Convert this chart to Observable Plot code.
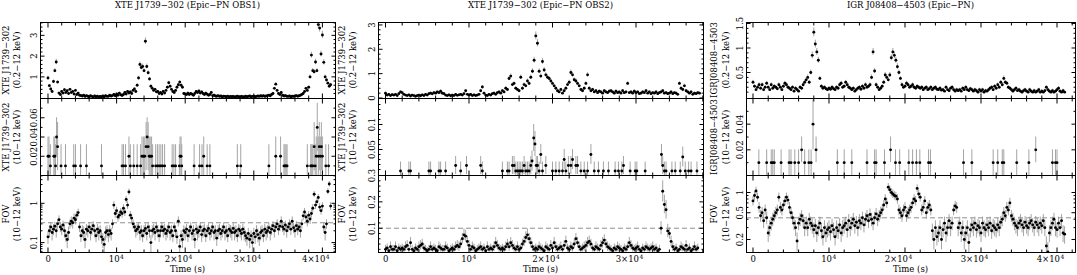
<!DOCTYPE html>
<html>
<head>
<meta charset="utf-8">
<script src="https://cdn.jsdelivr.net/npm/d3@7"></script>
<script src="https://cdn.jsdelivr.net/npm/@observablehq/plot@0.6"></script>
<style>
  html,body{margin:0;padding:0;background:#fff;}
  #chart{position:relative;width:1077px;height:275px;overflow:hidden;font-family:"DejaVu Serif",serif;color:#000;}
  #chart svg{position:absolute;overflow:visible;}
  .t{position:absolute;white-space:nowrap;font-size:8.5px;line-height:1;transform:translate(-50%,-50%);}
  .r{transform:translate(-50%,-50%) rotate(-90deg);}
</style>
</head>
<body>
<div id="chart"></div>
<script>
// ---------------- DATA ----------------
const BIN_S = 200; // light-curve bin (s); dense series start at t = 0

const columnTitles = ["XTE J1739\u2212302 (Epic\u2212PN OBS1)", "XTE J1739\u2212302 (Epic\u2212PN OBS2)", "IGR J08408\u22124503 (Epic\u2212PN)"];
const sourceLabels = ["XTE J1739\u2212302", "XTE J1739\u2212302", "IGRJ08408\u22124503"];
const rowFirstLines = ["source", "source", "FOV"];
const bandLabels = ["(0.2\u221212 keV)", "(10\u221212 keV)", "(10\u221212 keV)"];
const xTitle = "Time (s)";
const xTickValues = [0, 10000, 20000, 30000, 40000];
const xTickBase = ["0", "10", "2\u00d710", "3\u00d710", "4\u00d710"];   // tick label mantissa
const xTickExp  = ["", "4", "4", "4", "4"];                               // tick label exponent (superscript)

// XTE J1739-302 OBS1, 0.2-12 keV
const obs1Soft = [
 .95,.58,.42,.3,.78, 1.3,1.72,.75,.22,.15, .3,.22,.38,.25,.33, .2,.4,.25,.3,.18, .35,.15,.22,.12,.1,
 .08,.12,.06,.1,.07, .05,.09,.06,.04,.08, .05,.07,.04,.06,.05, .08,.05,.1,.06,.07, .12,.08,.1,.15,.09,
 .18,.12,.22,.14,.1, .15,.25,.18,.3,.22, .28,.2,.35,.42,.3, .6,.95,1.6,1.45,1.5, 1.3,2.72,1.5,1.2,.9,
 .55,.45,.35,.4,.28, .3,.2,.25,.18,.3, .22,.35,.5,.72,.55, .4,.3,.25,.35,.5, .62,.75,.6,.5,.2,
 .18,.15,.22,.15,.2, .17,.12,.2,.3,.25, .32,.22,.28,.2,.15, .22,.17,.12,.15,.25, .1,.12,.08,.07,.1,
 .06,.08,.05,.07,.06, .05,.07,.04,.06,.05, .06,.04,.05,.07,.05, .04,.06,.05,.04,.07, .05,.06,.08,.05,.06,
 .07,.05,.06,.08,.06, .09,.07,.1,.06,.08, .1,.12,.09,.15,.2, .45,.65,.35,.2,.15, .25,.12,.08,.1,.07,
 .06,.08,.05,.07,.06, .08,.1,.07,.09,.12, .15,.2,.3,.45,.35, .5,1.0,2.05,1.3,1.25, 1.72,1.3,3.52,3.35,2.1,
 3.02,1.7,1.0,.85,.7, .55,.62];
const obs1SoftErr = [
 .08,.06,.05,.04,.07, .1,.13,.07,.04,.03, .04,.04,.05,.04,.04, .04,.05,.04,.04,.03, .05,.03,.04,.03,.03,
 .03,.03,.02,.03,.02, .02,.03,.02,.02,.03, .02,.02,.02,.02,.02, .03,.02,.03,.02,.02, .03,.03,.03,.03,.03,
 .03,.03,.04,.03,.03, .03,.04,.03,.04,.04, .04,.04,.05,.05,.04, .06,.08,.12,.11,.12, .1,.16,.12,.1,.08,
 .06,.05,.05,.05,.04, .04,.04,.04,.03,.04, .04,.05,.06,.07,.06, .05,.04,.04,.05,.06, .06,.07,.06,.06,.04,
 .03,.03,.04,.03,.04, .03,.03,.04,.04,.04, .04,.04,.04,.04,.03, .04,.03,.03,.03,.04, .03,.03,.03,.02,.03,
 .02,.03,.02,.02,.02, .02,.02,.02,.02,.02, .02,.02,.02,.02,.02, .02,.02,.02,.02,.02, .02,.02,.03,.02,.02,
 .02,.02,.02,.03,.02, .03,.02,.03,.02,.03, .03,.03,.03,.03,.04, .05,.07,.05,.04,.03, .04,.03,.03,.03,.02,
 .02,.03,.02,.02,.02, .03,.03,.02,.03,.03, .03,.04,.04,.05,.05, .06,.09,.14,.1,.1, .13,.1,.2,.19,.14,
 .18,.13,.09,.08,.07, .06,.07];
// XTE J1739-302 OBS1, 10-12 keV: [time (ks), rate, error]
const obs1Hard = [
 [0.0,.02,.02],[0.15,.02,.02],[0.35,.01,.022],[0.85,.02,.02],[1.0,.02,.02],[1.1,.01,.022],[1.25,.04,.02],[1.4,.03,.025],
 [1.9,.01,.022],[2.55,.01,.022],[3.75,.01,.022],[4.0,.01,.022],[4.75,.01,.022],[5.6,.01,.022],[7.8,.01,.022],
 [10.8,.01,.022],[11.0,.01,.022],[11.3,.01,.022],[11.8,.02,.02],[12.0,.01,.022],[12.5,.01,.022],[13.0,.01,.022],
 [13.5,.01,.022],[13.7,.02,.02],[13.9,.02,.02],[14.1,.02,.02],[14.3,.03,.025],[14.45,.04,.02],[14.6,.03,.025],
 [14.75,.02,.02],[14.9,.02,.02],[15.1,.02,.02],[15.25,.01,.022],[15.7,.01,.022],[15.95,.01,.022],[16.2,.01,.022],
 [16.45,.01,.022],[16.7,.01,.022],[17.0,.01,.022],[18.1,.01,.022],[18.35,.01,.022],[18.6,.01,.022],[19.15,.01,.022],
 [19.25,.02,.02],[19.4,.02,.02],[19.5,.01,.022],[21.3,.01,.022],[22.1,.01,.022],[22.45,.01,.022],[22.7,.02,.02],
 [23.2,.01,.022],[23.6,.01,.022],[27.6,.01,.022],[28.1,.01,.022],[32.2,.01,.022],[33.2,.02,.02],[33.9,.02,.02],
 [34.4,.01,.022],[34.55,.01,.022],[34.7,.01,.022],[34.85,.01,.022],[37.8,.01,.022],[38.3,.01,.022],[38.45,.01,.022],
 [38.6,.01,.022],[38.8,.03,.025],[38.95,.01,.022],[39.1,.02,.02],[39.25,.05,.025],[39.4,.02,.02],[39.55,.03,.025],
 [39.7,.02,.02],[39.85,.03,.025],[40.0,.02,.02],[40.5,.01,.022],[40.9,.01,.022]];
// XTE J1739-302 OBS1, FOV 10-12 keV
const obs1Fov = [
 .14,.2,.25,.18,.22, .26,.2,.3,.38,.25, .22,.28,.2,.15,.12, .18,.3,.35,.32,.42, .38,.5,.58,.25,.15,
 .2,.18,.12,.22,.2, .25,.18,.22,.27,.2, .15,.22,.18,.2,.14, .12,.09,.18,.2,.16, .2,.17,.3,.9,.55,
 .65,.45,.5,.6,.55, .75,.6,1.25,.9,1.95, .5,.42,.3,.25,.2, .22,.25,.18,.2,.15, .2,.23,.17,.25,.2,
 .1,.2,.22,.18,.25, .2,.15,.2,.25,.2, .22,.17,.2,.25,.18, .2,.15,.25,.2,.14, .35,.08,.15,.12,.2,
 .18,.22,.15,.2,.25, .17,.2,.12,.22,.18, .2,.25,.16,.2,.22, .15,.2,.23,.17,.2, .25,.18,.2,.13,.2,
 .22,.17,.2,.25,.18, .2,.15,.22,.2,.18, .23,.18,.2,.15,.22, .2,.17,.22,.18,.15, .13,.17,.12,.15,.1,
 .17,.14,.2,.16,.13, .18,.2,.15,.22,.18, .2,.24,.18,.22,.27, .2,.25,.3,.22,.26, .35,.25,.22,.28,.2,
 .25,.3,.22,.35,.24, .2,.27,.22,.25,.2, .3,.48,.6,.45,.35, .5,.4,.55,.75,1.7, .9,1.1,1.4,.8,.65,
 .85,.25,.18,.3,2.0, 3.1,.85];
const obs1FovErr = [
 .05,.07,.07,.07,.07, .07,.07,.08,.1,.07, .07,.07,.07,.05,.05, .07,.08,.1,.1,.12, .1,.12,.13,.07,.05,
 .07,.07,.05,.07,.07, .07,.07,.07,.07,.07, .05,.07,.07,.07,.05, .05,.05,.07,.07,.06, .07,.06,.08,.2,.13,
 .15,.12,.12,.14,.13, .17,.14,.25,.2,.35, .12,.11,.08,.07,.07, .07,.07,.07,.07,.05, .07,.07,.06,.07,.07,
 .05,.07,.07,.07,.07, .07,.05,.07,.07,.07, .07,.06,.07,.07,.07, .07,.05,.07,.07,.05, .1,.04,.05,.05,.07,
 .07,.07,.05,.07,.07, .06,.07,.05,.07,.07, .07,.07,.06,.07,.07, .05,.07,.07,.06,.07, .07,.07,.07,.05,.07,
 .07,.06,.07,.07,.07, .07,.05,.07,.07,.07, .07,.07,.07,.05,.07, .07,.06,.07,.07,.05, .05,.06,.05,.05,.05,
 .06,.05,.07,.06,.05, .07,.07,.05,.07,.07, .07,.07,.07,.07,.07, .07,.07,.08,.07,.07, .1,.07,.07,.07,.07,
 .07,.08,.07,.1,.07, .07,.07,.07,.07,.07, .08,.12,.14,.12,.1, .12,.11,.13,.17,.3, .2,.22,.27,.18,.15,
 .19,.07,.07,.08,.35, .5,.19];

// XTE J1739-302 OBS2, 0.2-12 keV
const obs2Soft = [
 .2,.12,.15,.1,.14, .12,.15,.1,.18,.25, .22,.15,.12,.1,.13, .08,.12,.1,.07,.1, .12,.09,.13,.1,.15,
 .12,.18,.2,.17,.22, .2,.25,.22,.28,.2, .18,.12,.1,.13,.09, .12,.1,.15,.11,.13, .15,.12,.18,.3,.15,
 .12,.15,.1,.13,.1, .12,.15,.3,.45,.2, .12,.1,.15,.12,.18, .2,.15,.22,.25,.2, .3,.25,.4,.35,.8,
 .9,.55,.6,.4,.35, .3,.85,.4,.55,.5, .7,.6,.85,1.1,1.55, 2.55,2.25,1.1,.9,1.5, 1.15,.95,.85,.8,.7,
 .6,.5,.4,.3,.25, .35,.2,.3,.4,.55, .65,1.05,.95,.75,.7, .6,.5,.35,.3,.4, .6,.95,.4,.3,.35,
 .25,.3,.22,.28,.25, .2,.3,.25,.22,.28, .3,.25,.2,.28,.22, .25,.2,.3,.22,.25, .6,.22,.25,.2,.28,
 .22,.25,.18,.2,.25, .22,.3,.2,.25,.18, .22,.2,.25,.18,.22, .25,.3,.2,.22,.18, .2,.25,.18,.22,.2,
 .15,.6,.4,.35,.5, .3,.25,.2,.25,.15, .2,.18,.22,.2];
const obs2SoftErr = [
 .04,.03,.03,.03,.03, .03,.03,.03,.04,.04, .04,.03,.03,.03,.03, .03,.03,.03,.02,.03, .03,.03,.03,.03,.03,
 .03,.04,.04,.04,.04, .04,.04,.04,.05,.04, .04,.03,.03,.03,.03, .03,.03,.03,.03,.03, .03,.03,.04,.05,.03,
 .03,.03,.03,.03,.03, .03,.03,.05,.06,.04, .03,.03,.03,.03,.04, .04,.03,.04,.04,.04, .05,.04,.06,.05,.08,
 .09,.07,.07,.06,.05, .05,.09,.06,.07,.07, .08,.07,.09,.1,.12, .16,.15,.1,.09,.12, .1,.09,.09,.08,.08,
 .07,.07,.06,.05,.04, .05,.04,.05,.06,.07, .08,.1,.09,.08,.08, .07,.07,.05,.05,.06, .07,.09,.06,.05,.05,
 .04,.05,.04,.05,.04, .04,.05,.04,.04,.05, .05,.04,.04,.05,.04, .04,.04,.05,.04,.04, .07,.04,.04,.04,.05,
 .04,.04,.04,.04,.04, .04,.05,.04,.04,.04, .04,.04,.04,.04,.04, .04,.05,.04,.04,.04, .04,.04,.04,.04,.04,
 .03,.07,.06,.05,.07, .05,.04,.04,.04,.03, .04,.04,.04,.04];
// XTE J1739-302 OBS2, 10-12 keV: [time (ks), rate, error]
const obs2Hard = [
 [1.8,.007,.018],[2.8,.007,.018],[3.0,.007,.018],[5.2,.007,.018],[5.4,.007,.018],[6.4,.007,.018],[6.6,.007,.018],
 [7.2,.007,.018],[8.4,.018,.018],[9.0,.007,.018],[9.7,.018,.018],[11.4,.018,.018],[11.6,.007,.018],[14.0,.007,.018],
 [14.6,.007,.018],[14.8,.007,.018],[15.2,.018,.018],[15.4,.018,.018],[15.6,.007,.018],[15.8,.007,.018],[16.0,.007,.018],
 [16.2,.007,.018],[16.4,.007,.018],[16.6,.018,.018],[16.8,.007,.018],[17.0,.007,.018],[17.2,.007,.018],[17.4,.018,.018],
 [17.55,.027,.02],[17.75,.073,.027],[17.9,.061,.025],[18.05,.018,.018],[18.2,.018,.018],[18.4,.007,.018],[18.6,.04,.02],
 [18.8,.007,.018],[19.2,.018,.018],[20.0,.007,.018],[20.4,.007,.018],[20.8,.007,.018],[21.2,.007,.018],[21.4,.03,.02],
 [21.6,.007,.018],[21.9,.018,.018],[22.2,.018,.018],[22.4,.03,.02],[22.8,.018,.018],[23.0,.018,.018],[23.4,.007,.018],
 [23.8,.007,.018],[24.2,.007,.018],[24.6,.04,.02],[25.0,.007,.018],[25.5,.007,.018],[26.1,.007,.018],[26.7,.007,.018],
 [27.5,.007,.018],[27.9,.007,.018],[28.3,.007,.018],[28.5,.018,.018],[29.3,.007,.018],[29.9,.007,.018],[30.1,.007,.018],
 [31.1,.007,.018],[33.05,.04,.02],[33.2,.018,.018],[33.4,.007,.018],[33.6,.007,.018],[34.3,.007,.018],[34.7,.007,.018],
 [35.3,.007,.018],[35.6,.035,.02],[35.9,.007,.018],[36.3,.007,.018],[36.6,.007,.018],[37.3,.007,.018]];
// XTE J1739-302 OBS2, FOV 10-12 keV
const obs2Fov = [
 .02,.025,.015,.03,.02, .02,.03,.015,.025,.02, .025,.02,.03,.035,.02, .045,.02,.015,.025,.02, .03,.035,.04,.025,.02,
 .015,.02,.03,.02,.025, .02,.015,.03,.025,.02, .02,.03,.025,.015,.02, .025,.02,.03,.035,.03, .04,.06,.075,.07,.05,
 .035,.02,.03,.025,.015, .02,.025,.03,.02,.025, .015,.03,.02,.025,.02, .03,.045,.035,.025,.02, .025,.02,.03,.04,.03,
 .045,.035,.025,.02,.03, .02,.025,.04,.05,.065, .075,.06,.045,.03,.02, .025,.02,.03,.025,.02, .015,.03,.025,.02,.035,
 .025,.045,.03,.02,.025, .03,.02,.035,.05,.025, .02,.03,.025,.04,.06, .045,.03,.02,.025,.03, .035,.045,.05,.04,.025,
 .02,.03,.025,.02,.035, .045,.055,.04,.03,.025, .02,.015,.025,.02,.03, .025,.02,.015,.025,.02, .03,.045,.035,.025,.02,
 .025,.03,.02,.015,.025, .02,.03,.025,.02,.025, .03,.02,.025,.015,.02, .1,.24,.19,.17,.09, .08,.05,.03,.02,.025,
 .015,.02,.03,.025,.02, .035,.02,.025,.015,.02, .03,.02,.025];
const obs2FovErr = [
 .015,.015,.012,.018,.015, .015,.018,.012,.015,.015, .015,.015,.018,.018,.015, .02,.015,.012,.015,.015, .018,.018,.018,.015,.015,
 .012,.015,.018,.015,.015, .015,.012,.018,.015,.015, .015,.018,.015,.012,.015, .015,.015,.018,.018,.018, .018,.02,.022,.022,.02,
 .018,.015,.018,.015,.012, .015,.015,.018,.015,.015, .012,.018,.015,.015,.015, .018,.02,.018,.015,.015, .015,.015,.018,.018,.018,
 .02,.018,.015,.015,.018, .015,.015,.018,.02,.022, .022,.02,.02,.018,.015, .015,.015,.018,.015,.015, .012,.018,.015,.015,.018,
 .015,.02,.018,.015,.015, .018,.015,.018,.02,.015, .015,.018,.015,.018,.02, .02,.018,.015,.015,.018, .018,.02,.02,.018,.015,
 .015,.018,.015,.015,.018, .02,.02,.018,.018,.015, .015,.012,.015,.015,.018, .015,.015,.012,.015,.015, .018,.02,.018,.015,.015,
 .015,.018,.015,.012,.015, .015,.018,.015,.015,.015, .018,.015,.015,.012,.015, .025,.04,.035,.035,.025, .022,.02,.018,.015,.015,
 .012,.015,.018,.015,.015, .018,.015,.015,.012,.015, .018,.015,.015];

// IGR J08408-4503, 0.2-12 keV
const igrSoft = [
 .3,.22,.15,.2,.25, .18,.25,.15,.2,.28, .2,.15,.25,.18,.22, .2,.17,.25,.2,.15, .22,.28,.25,.2,.18,
 .15,.2,.12,.18,.15, .12,.2,.18,.25,.3, .35,.4,.3,.5,.85, 1.32,1.08,.92,.75,.38, .22,.18,.2,.17,.15,
 .18,.16,.2,.17,.15, .2,.18,.25,.28,.2, .22,.3,.25,.2,.18, .15,.18,.12,.15,.18, .2,.16,.22,.18,.25,
 .2,.22,.25,.4,.92, .53,.25,.2,.15,.18, .22,.3,.45,.4,.35, .45,.8,.92,.85,.75, .62,.5,.38,.25,.2,
 .22,.28,.25,.2,.22, .25,.2,.18,.22,.2, .18,.2,.15,.18,.2, .15,.17,.2,.15,.18, .2,.16,.15,.18,.14,
 .15,.12,.2,.15,.13, .18,.2,.15,.12,.15, .13,.15,.12,.18,.15, .2,.15,.13,.17,.15, .12,.15,.13,.1,.15,
 .12,.15,.1,.13,.12, .15,.18,.2,.15,.22, .18,.25,.2,.3,.25, .38,.3,.28,.2,.18, .15,.12,.15,.18,.13,
 .15,.12,.1,.13,.15, .12,.1,.15,.12,.1, .13,.1,.12,.15,.1, .12,.1,.13,.2,.15, .12,.1,.13,.1,.12,
 .15,.18,.12,.1,.13, .1];
const igrSoftErr = [
 .04,.03,.03,.03,.04, .03,.04,.03,.03,.04, .03,.03,.04,.03,.03, .03,.03,.04,.03,.03, .03,.04,.04,.03,.03,
 .03,.03,.03,.03,.03, .03,.03,.03,.04,.04, .04,.05,.04,.05,.07, .09,.08,.07,.06,.04, .03,.03,.03,.03,.03,
 .03,.03,.03,.03,.03, .03,.03,.04,.04,.03, .03,.04,.04,.03,.03, .03,.03,.03,.03,.03, .03,.03,.03,.03,.04,
 .03,.03,.04,.05,.07, .05,.04,.03,.03,.03, .03,.04,.05,.05,.04, .05,.06,.07,.07,.06, .06,.05,.04,.04,.03,
 .03,.04,.04,.03,.03, .04,.03,.03,.03,.03, .03,.03,.03,.03,.03, .03,.03,.03,.03,.03, .03,.03,.03,.03,.03,
 .03,.03,.03,.03,.03, .03,.03,.03,.03,.03, .03,.03,.03,.03,.03, .03,.03,.03,.03,.03, .03,.03,.03,.02,.03,
 .03,.03,.02,.03,.03, .03,.03,.03,.03,.03, .03,.04,.03,.04,.04, .05,.04,.04,.03,.03, .03,.03,.03,.03,.03,
 .03,.03,.02,.03,.03, .03,.02,.03,.03,.02, .03,.02,.03,.03,.02, .03,.02,.03,.03,.03, .03,.02,.03,.02,.03,
 .03,.03,.03,.02,.03, .02];
// IGR J08408-4503, 10-12 keV: [time (ks), rate, error]
const igrHard = [
 [0.77,.01,.01],[1.8,.01,.01],[2.4,.01,.01],[2.6,.01,.01],[2.8,.01,.01],[3.7,.01,.01],[4.75,.01,.01],[5.0,.01,.01],
 [5.5,.01,.01],[6.0,.01,.01],[6.4,.02,.01],[6.8,.01,.01],[7.35,.01,.01],[7.65,.01,.01],[7.9,.04,.02],[8.3,.02,.01],
 [11.1,.01,.01],[12.0,.01,.01],[13.0,.01,.01],[15.0,.01,.01],[16.0,.01,.01],[16.2,.01,.01],[17.3,.01,.01],
 [18.1,.02,.01],[18.75,.01,.01],[19.3,.01,.01],[20.5,.01,.01],[21.0,.01,.01],[21.5,.01,.01],[21.95,.01,.01],
 [23.1,.01,.01],[23.35,.01,.01],[27.7,.01,.01],[28.8,.01,.01],[31.6,.01,.01],[32.2,.01,.01],[32.8,.01,.01],
 [33.0,.01,.01],[34.7,.01,.01],[36.3,.01,.01],[37.2,.02,.01],[39.4,.01,.01],[39.8,.01,.01],[40.0,.01,.01]];
// IGR J08408-4503, FOV 10-12 keV
const igrFov = [
 .75,.9,1.05,.85,.6, .45,.5,.38,.55,.42, .25,.3,.35,.4,.45, .5,.55,.85,.6,.55, .65,.75,.85,.77,.6,
 .5,.42,.35,.3,.19, .35,.4,.45,.38,.3, .35,.3,.4,.35,.32, .28,.32,.25,.3,.35, .27,.22,.3,.25,.28,
 .3,.26,.32,.28,.22, .3,.27,.33,.25,.3, .32,.35,.28,.38,.3, .35,.4,.32,.36,.3, .38,.35,.42,.33,.4,
 .45,.38,.47,.4,.35, .42,.48,.4,.45,.5, .55,.65,.8,.7,1.2, 1.1,1.0,.95,.9,.88, .8,.55,.5,.45,.55,
 .6,.45,.5,.55,.6, .7,.8,.75,1.15,.95, .85,.55,.6,.75,.5, .6,.65,.55,.27,.2, .3,.22,.25,.3,.2,
 .28,.35,.25,.3,.38, .3,.35,.55,.63,.6, .3,.35,.25,.3,.2, .25,.3,.18,.28,.33, .3,.35,.28,.32,.3,
 .25,.35,.3,.28,.33, .3,.35,.27,.32,.3, .28,.33,.3,.36,.4, .5,.45,.6,.55,.7, .45,.4,.35,.32,.3,
 .35,.38,.33,.3,.36, .32,.3,.35,.38,.33, .3,.36,.33,.3,.35, .32,.38,.3,.16,.13, .25,.3,.35,.4,.3,
 .28,.35,.3,.38,.25, .24];
const igrFovErr = [
 .12,.14,.15,.13,.11, .09,.1,.09,.1,.09, .07,.08,.08,.09,.09, .1,.1,.13,.11,.1, .11,.12,.13,.12,.11,
 .1,.09,.08,.08,.06, .08,.09,.09,.09,.08, .08,.08,.09,.08,.08, .07,.08,.07,.08,.08, .07,.06,.08,.07,.07,
 .08,.07,.08,.07,.06, .08,.07,.08,.07,.08, .08,.08,.07,.09,.08, .08,.09,.08,.08,.08, .09,.08,.09,.08,.09,
 .09,.09,.1,.09,.08, .09,.1,.09,.09,.1, .1,.11,.13,.12,.16, .15,.14,.14,.13,.13, .13,.1,.1,.09,.1,
 .11,.09,.1,.1,.11, .12,.13,.12,.15,.14, .13,.1,.11,.12,.1, .11,.11,.1,.07,.06, .08,.06,.07,.08,.06,
 .07,.08,.07,.08,.09, .08,.08,.1,.11,.11, .08,.08,.07,.08,.06, .07,.08,.06,.07,.08, .08,.08,.07,.08,.08,
 .07,.08,.08,.07,.08, .08,.08,.07,.08,.08, .07,.08,.08,.08,.09, .1,.09,.11,.1,.12, .09,.09,.08,.08,.08,
 .08,.09,.08,.08,.08, .08,.08,.08,.09,.08, .08,.08,.08,.08,.08, .08,.09,.08,.06,.05, .07,.08,.08,.09,.08,
 .07,.08,.08,.09,.07, .07];

// Reference (dashed) levels in the FOV panels
const fovLevels = [0.32, 0.1, 0.42];

// Axis tick values (labelled) per panel [column][row]
const yTickLabels = [
  [[1, 2, 3], [0.02, 0.04, 0.06], [0.1, 1]],
  [[0, 1, 2, 3], [0.05, 0.1], [0.1, 0.2, 0.3]],
  [[0.5, 1, 1.5], [0.02, 0.04], [0.2, 0.5, 1]]
];
const yMinorTicks = [
  [[0.2,0.4,0.6,0.8,1.2,1.4,1.6,1.8,2.2,2.4,2.6,2.8,3.2,3.4,3.6], [0.01,0.03,0.05,0.07], [0.06,0.07,0.08,0.09,0.2,0.3,0.4,0.5,0.6,0.7,0.8,0.9,2,3,4,5]],
  [[0.2,0.4,0.6,0.8,1.2,1.4,1.6,1.8,2.2,2.4,2.6,2.8], [0.01,0.02,0.03,0.04,0.06,0.07,0.08,0.09,0.11,0.12,0.13,0.14], [0.02,0.04,0.06,0.08,0.12,0.14,0.16,0.18,0.22,0.24,0.26,0.28]],
  [[0.1,0.2,0.3,0.4,0.6,0.7,0.8,0.9,1.1,1.2,1.3,1.4], [0.01,0.03,0.05], [0.3,0.4,0.6,0.7,0.8,0.9]]
];
const xMinorTicks = [2000,4000,6000,8000,12000,14000,16000,18000,22000,24000,26000,28000,32000,34000,36000,38000,42000];

// ---------------- LAYOUT ----------------
const cols = [
  {left: 40,  width: 295, xDomain: [-1093, 41910]},
  {left: 378, width: 325, xDomain: [-838, 38084]},
  {left: 746, width: 329, xDomain: [-855, 42434]}
];
const rows = [
  {top: 22,  height: 76},
  {top: 98,  height: 77},
  {top: 175, height: 77}
];
const yScales = [
  [{type: "linear", domain: [-0.04, 3.62]}, {type: "linear", domain: [0, 0.08]}, {type: "log", domain: [0.056, 5.1]}],
  [{type: "linear", domain: [-0.02, 3.1]}, {type: "linear", domain: [-0.002, 0.152]}, {type: "linear", domain: [0.008, 0.3]}],
  [{type: "linear", domain: [-0.03, 1.52]}, {type: "linear", domain: [0, 0.06]}, {type: "log", domain: [0.128, 1.79]}]
];
const labelX = [[6, 17], [342, 353], [714, 726]];

const chart = document.getElementById("chart");

function denseRows(vals, errs, isLog) {
  return vals.map((v, i) => ({t: i * BIN_S, v, lo: isLog ? Math.max(v - errs[i], 1e-3) : v - errs[i], hi: v + errs[i]}));
}
function sparseRows(list) {
  return list.map(([tks, v, e]) => ({t: tks * 1000, v, lo: v - e, hi: v + e}));
}

const panelData = [
  [denseRows(obs1Soft, obs1SoftErr, false), sparseRows(obs1Hard), denseRows(obs1Fov, obs1FovErr, true)],
  [denseRows(obs2Soft, obs2SoftErr, false), sparseRows(obs2Hard), denseRows(obs2Fov, obs2FovErr, false)],
  [denseRows(igrSoft, igrSoftErr, false), sparseRows(igrHard), denseRows(igrFov, igrFovErr, true)]
];

const inside = (dom) => (d) => d >= Math.min(...dom) - 1e-9 && d <= Math.max(...dom) + 1e-9;
const blank = () => "";

function drawPanel(c, r) {
  const col = cols[c], row = rows[r], ys = yScales[c][r];
  const bottom = r === 2;
  const ml = 36, mr = 10, mt = 10, mb = bottom ? 34 : 10;
  const inX = inside(col.xDomain), inY = inside(ys.domain);
  const xMaj = xTickValues.filter(inX), xMin = xMinorTicks.filter(inX);
  const yLab = yTickLabels[c][r].filter(inY), yMin = yMinorTicks[c][r].filter(inY);
  const data = panelData[c][r];
  const marks = [
    Plot.ruleX(data, {x: "t", y1: "lo", y2: "hi", stroke: "#a4a4a4", strokeWidth: 1, clip: true})
  ];
  if (r === 2) marks.push(Plot.ruleY([fovLevels[c]], {stroke: "#8f8f8f", strokeWidth: 1, strokeDasharray: "5,3"}));
  marks.push(
    Plot.dot(data, {x: "t", y: "v", r: 1.45, fill: "#000", stroke: "none", clip: true}),
    Plot.axisX({anchor: "bottom", ticks: xMaj, tickSize: 4.5, dy: -4.5, tickFormat: blank, label: null}),
    Plot.axisX({anchor: "bottom", ticks: xMin, tickSize: 2.5, dy: -2.5, tickFormat: blank, label: null}),
    Plot.axisX({anchor: "top", ticks: xMaj, tickSize: 4.5, dy: 4.5, tickFormat: blank, label: null}),
    Plot.axisX({anchor: "top", ticks: xMin, tickSize: 2.5, dy: 2.5, tickFormat: blank, label: null}),
    Plot.axisY({anchor: "left", ticks: yLab, tickSize: 4.5, dx: 4.5, tickFormat: blank, label: null}),
    Plot.axisY({anchor: "left", ticks: yMin, tickSize: 2.5, dx: 2.5, tickFormat: blank, label: null}),
    Plot.axisY({anchor: "right", ticks: yLab, tickSize: 4.5, dx: -4.5, tickFormat: blank, label: null}),
    Plot.axisY({anchor: "right", ticks: yMin, tickSize: 2.5, dx: -2.5, tickFormat: blank, label: null}),
    Plot.axisY({anchor: "left", ticks: yLab, tickSize: 0, tickPadding: 4, tickRotate: -90, tickFormat: (d) => String(d), label: null}),
    Plot.frame({stroke: "#000", strokeWidth: 1})
  );
  if (bottom) {
    const idx = xTickValues.map((v, i) => i).filter((i) => inX(xTickValues[i]));
    marks.push(
      Plot.text(idx, {x: (i) => xTickValues[i], text: (i) => xTickBase[i], frameAnchor: "bottom",
        textAnchor: "end", lineAnchor: "top", dx: 3, dy: 3.5, fontSize: 8.5}),
      Plot.text(idx, {x: (i) => xTickValues[i], text: (i) => xTickExp[i], frameAnchor: "bottom",
        textAnchor: "start", lineAnchor: "top", dx: 3.4, dy: 1.8, fontSize: 6})
    );
  }
  const svg = Plot.plot({
    width: col.width + ml + mr, height: row.height + mt + mb,
    marginLeft: ml, marginRight: mr, marginTop: mt, marginBottom: mb,
    x: {domain: col.xDomain, label: null},
    y: {type: ys.type, domain: ys.domain, label: null},
    marks
  });
  svg.style.left = (col.left - ml) + "px";
  svg.style.top = (row.top - mt) + "px";
  svg.style.fontFamily = '"DejaVu Serif", serif';
  svg.style.fontSize = "8.5px";
  svg.style.background = "transparent";
  svg.style.maxWidth = "none";
  chart.appendChild(svg);
}

for (let c = 0; c < 3; c++) for (let r = 0; r < 3; r++) drawPanel(c, r);

function addText(txt, x, y, rotated) {
  const d = document.createElement("div");
  d.className = "t" + (rotated ? " r" : "");
  d.textContent = txt;
  d.style.left = x + "px";
  d.style.top = y + "px";
  chart.appendChild(d);
}

for (let c = 0; c < 3; c++) {
  const cx = cols[c].left + cols[c].width / 2;
  addText(columnTitles[c], cx, 5, false);
  addText(xTitle, cx, 269, false);
  for (let r = 0; r < 3; r++) {
    const cy = rows[r].top + rows[r].height / 2;
    const first = rowFirstLines[r] === "source" ? sourceLabels[c] : rowFirstLines[r];
    addText(first, labelX[c][0], cy, true);
    addText(bandLabels[r], labelX[c][1], cy, true);
  }
}
</script>
</body>
</html>
